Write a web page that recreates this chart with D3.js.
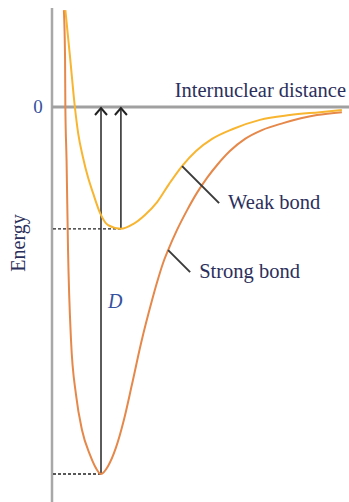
<!DOCTYPE html>
<html>
<head>
<meta charset="utf-8">
<script src="https://cdn.jsdelivr.net/npm/d3@7"></script>
<style>
  body { margin: 0; background: #fff; }
  svg { display: block; }
  text { font-family: "Liberation Serif", "DejaVu Serif", serif; }
</style>
</head>
<body>
<svg id="chart" width="349" height="502"></svg>
<script>
// values (arbitrary units: distance 0..10, energy with strong-bond depth = 10)
const weakDistance = [0.45, 0.61, 0.77, 0.88, 1.04, 1.21, 1.38, 1.62, 1.89, 2.32, 2.73, 3.13, 3.54, 3.94, 4.38, 4.85, 5.39, 6.09, 7.00, 8.01, 9.02, 9.76];
const weakEnergy   = [2.64, 1.34, 0, -0.71, -1.36, -1.91, -2.34, -2.89, -3.22, -3.32, -3.19, -2.94, -2.59, -2.10, -1.61, -1.20, -0.87, -0.60, -0.35, -0.22, -0.14, -0.08];

const strongDistance = [0.40, 0.44, 0.45, 0.49, 0.54, 0.64, 0.81, 1.01, 1.28, 1.48, 1.65, 1.89, 2.15, 2.42, 2.69, 3.00, 3.37, 3.54, 3.74, 3.91, 4.21, 4.55, 4.88, 5.22, 5.56, 5.99, 6.50, 7.07, 7.78, 8.92, 9.76];
const strongEnergy   = [2.64, 1.28, 0, -1.44, -3.90, -6.35, -7.85, -8.80, -9.48, -9.84, -10.0, -9.78, -9.29, -8.53, -7.57, -6.43, -5.26, -4.77, -4.25, -3.90, -3.35, -2.81, -2.34, -1.93, -1.58, -1.20, -0.87, -0.63, -0.44, -0.22, -0.14];

// bond minima (equilibrium distance, well depth)
const minima = [
  { name: "weak", r: 2.32, e: -3.32 },
  { name: "strong", r: 1.65, e: -10.0 }
];

// callouts: point on curve -> label
const callouts = [
  { text: "Weak bond", r: 4.38, e: -1.61 },
  { text: "Strong bond", r: 3.91, e: -3.90 }
];

const yTicks = [0];

const svg = d3.select("#chart");
const x = d3.scaleLinear().domain([0, 10]).range([52, 349]);
const y = d3.scaleLinear().domain([0, -10]).range([107, 474]);

const textColor = "#2c2f5c";
const blueText = "#3552a0";
const colors = { weak: "#f8b530", strong: "#e5884a" };

// vertical (energy) axis
svg.append("line")
   .attr("x1", x(0)).attr("x2", x(0))
   .attr("y1", 8).attr("y2", 502)
   .style("stroke", "#a8a8a8")
   .style("stroke-width", 2.5);

// zero line = distance axis
svg.append("line")
   .attr("x1", x(0)).attr("x2", 349)
   .attr("y1", y(0)).attr("y2", y(0))
   .style("stroke", "#a0a0a0")
   .style("stroke-width", 3);

svg.selectAll(".ytick")
   .data(yTicks)
   .enter()
   .append("text")
   .attr("x", 38)
   .attr("y", d => y(d) + 6)
   .attr("text-anchor", "middle")
   .style("font-size", "19px")
   .style("fill", blueText)
   .text(d => d);

svg.append("text")
   .attr("x", 346)
   .attr("y", y(0) - 10)
   .attr("text-anchor", "end")
   .style("font-size", "20.5px")
   .style("fill", textColor)
   .text("Internuclear distance");

svg.append("text")
   .attr("transform", "translate(25,243) rotate(-90)")
   .attr("text-anchor", "middle")
   .style("font-size", "20px")
   .style("fill", textColor)
   .text("Energy");

// dotted guides from axis to each minimum
svg.selectAll(".guide")
   .data(minima)
   .enter()
   .append("line")
   .attr("x1", x(0) + 1).attr("x2", d => x(d.r))
   .attr("y1", d => y(d.e)).attr("y2", d => y(d.e))
   .style("stroke", "#222")
   .style("stroke-width", 1.3)
   .style("stroke-dasharray", "3,2");

// arrows from minimum up to zero
const arrows = svg.selectAll(".arrow")
   .data(minima)
   .enter()
   .append("g");

arrows.append("line")
   .attr("x1", d => x(d.r)).attr("x2", d => x(d.r))
   .attr("y1", d => y(d.e)).attr("y2", y(0) + 1)
   .style("stroke", "#333")
   .style("stroke-width", 1.6);

arrows.append("path")
   .attr("d", d => {
       const p = d3.path();
       p.moveTo(x(d.r) - 6, y(0) + 8);
       p.lineTo(x(d.r), y(0) + 1);
       p.lineTo(x(d.r) + 6, y(0) + 8);
       return p.toString();
   })
   .style("fill", "none")
   .style("stroke", "#222")
   .style("stroke-width", 2);

svg.append("text")
   .attr("x", x(1.65) + 7)
   .attr("y", 308)
   .style("font-size", "20px")
   .style("font-style", "italic")
   .style("fill", blueText)
   .text("D");

// potential curves
const line = d3.line()
   .x(d => x(d[0]))
   .y(d => y(d[1]))
   .curve(d3.curveMonotoneX);

const curves = [
  { name: "strong", pts: d3.zip(strongDistance, strongEnergy) },
  { name: "weak", pts: d3.zip(weakDistance, weakEnergy) }
];

svg.selectAll(".curve")
   .data(curves)
   .enter()
   .append("path")
   .attr("d", d => line(d.pts))
   .style("fill", "none")
   .style("stroke", d => colors[d.name])
   .style("stroke-width", 2);

// callout leaders + labels
const leaderLen = [{ dx: 37, dy: 37 }, { dx: 22, dy: 22 }];
const co = svg.selectAll(".callout")
   .data(callouts)
   .enter()
   .append("g");

co.append("line")
   .attr("x1", d => x(d.r)).attr("y1", d => y(d.e))
   .attr("x2", (d, i) => x(d.r) + leaderLen[i].dx)
   .attr("y2", (d, i) => y(d.e) + leaderLen[i].dy)
   .style("stroke", "#3a3a3a")
   .style("stroke-width", 2);

co.append("text")
   .attr("x", (d, i) => x(d.r) + leaderLen[i].dx + 9)
   .attr("y", (d, i) => y(d.e) + leaderLen[i].dy + 6)
   .style("font-size", "20.5px")
   .style("fill", textColor)
   .text(d => d.text);
</script>
</body>
</html>
